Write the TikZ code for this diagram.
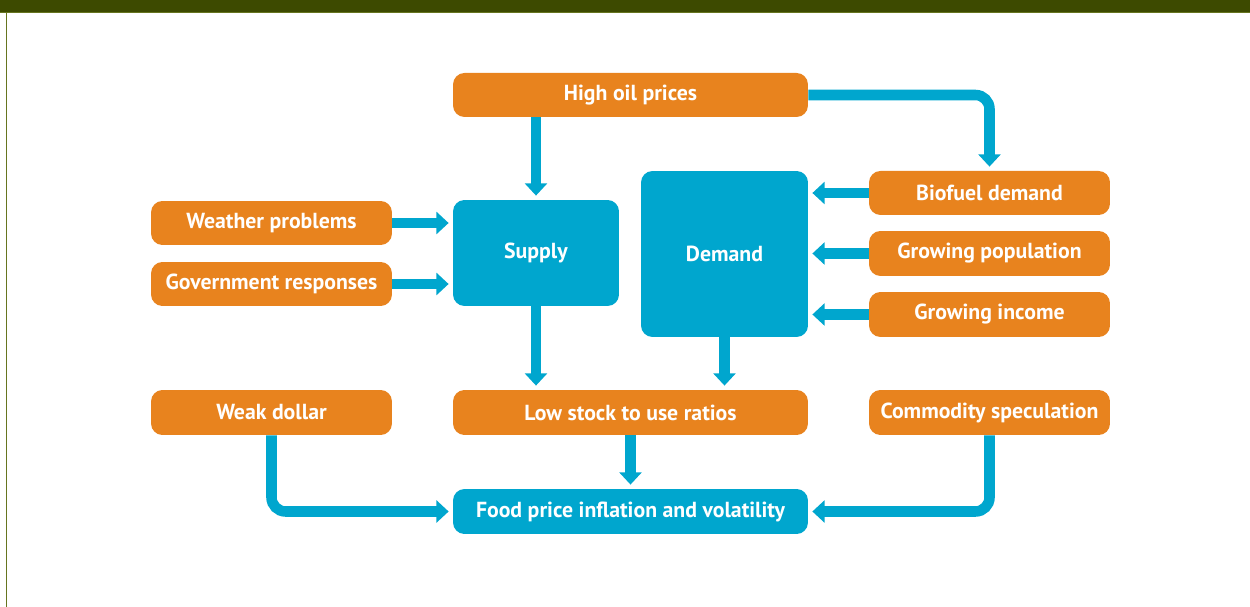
\documentclass[tikz,border=0pt]{standalone}
\usepackage{fontspec}
\setmainfont{PT Sans}
\usepackage{tikz}
\usetikzlibrary{arrows.meta}

\definecolor{oilorange}{HTML}{E8831E}
\definecolor{flowblue}{HTML}{00A6CE}
\definecolor{bandolive}{HTML}{3D4A00}
\definecolor{rimolive}{HTML}{66751F}

\tikzset{
  cause/.style={draw=none,fill=oilorange,rounded corners=6.5pt,text=white,
    font=\fontsize{12.4}{14}\selectfont\bfseries,inner sep=0pt},
  market/.style={cause,fill=flowblue},
  flow/.style={draw=flowblue,line width=6pt,rounded corners=8pt,
    -{Triangle[width=12.5pt,length=7pt]},shorten >=2.3pt}
}

\begin{document}
\begin{tikzpicture}[x=0.02cm,y=-0.02cm]
    \useasboundingbox (0,0) rectangle (1250,607);
    % frame
    \fill[bandolive] (0,0) rectangle (1250,12);
    \draw[rimolive,line width=0.6pt] (0,12.5) -- (1250,12.5);
    \draw[rimolive,line width=0.6pt] (6.5,12) -- (6.5,607);
    % top and middle row
    \node[cause,minimum width=7.1cm,minimum height=0.88cm] (oil) at (630.5,95) {High oil prices};
    \node[market,minimum width=3.32cm,minimum height=2.12cm] (supply) at (536,253) {Supply};
    \node[market,minimum width=3.34cm,minimum height=3.32cm] (demand) at (724.5,254) {Demand};
    \node[cause,minimum width=4.82cm,minimum height=0.88cm] (weather) at (271.5,223) {Weather problems};
    \node[cause,minimum width=4.82cm,minimum height=0.88cm] (govt) at (271.5,284) {Government responses};
    \node[cause,minimum width=4.82cm,minimum height=0.88cm] (biofuel) at (989.5,193) {Biofuel demand};
    \node[cause,minimum width=4.82cm,minimum height=0.9cm] (population) at (989.5,253.5) {Growing population};
    \node[cause,minimum width=4.82cm,minimum height=0.9cm] (income) at (989.5,314.5) {Growing income};
    % bottom rows
    \node[cause,minimum width=4.82cm,minimum height=0.9cm] (dollar) at (271.5,412.5) {Weak dollar};
    \node[cause,minimum width=7.1cm,minimum height=0.9cm] (stock) at (630.5,412.5) {Low stock to use ratios};
    \node[cause,minimum width=4.82cm,minimum height=0.9cm] (speculation) at (989.5,412.5) {Commodity speculation};
    \node[market,minimum width=7.1cm,minimum height=0.9cm] (food) at (630.5,511.5) {Food price inflation and volatility};
    % arrows
    \draw[flow] (oil.south -| supply.north) -- (supply.north);
    \draw[flow] (oil.east) -| (biofuel.north);
    \foreach \Src in {weather,govt}
    \draw[flow] (\Src.east) -- (\Src.east -| supply.west);
    \foreach \Src in {biofuel,population,income}
    \draw[flow] (\Src.west) -- (\Src.west -| demand.east);
    \draw[flow] (supply.south) -- (supply.south |- stock.north);
    \draw[flow] (demand.south) -- (demand.south |- stock.north);
    \draw[flow] (stock.south) -- (food.north);
    \draw[flow] (dollar.south) |- (food.west);
    \draw[flow] (speculation.south) |- (food.east);
\end{tikzpicture}
\end{document}
